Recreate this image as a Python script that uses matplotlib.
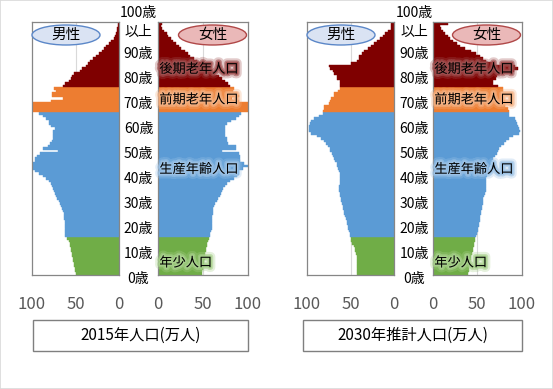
"""Population pyramids: 2015 census vs 2030 projection (unit: 10k people)."""
import matplotlib
matplotlib.use("Agg")
import matplotlib.pyplot as plt
import matplotlib.patheffects as pe
import matplotlib.transforms as mtransforms
from matplotlib.patches import Ellipse, Rectangle
import numpy as np

plt.rcParams["font.family"] = ["Noto Sans CJK JP", "DejaVu Sans"]

W, H = 553, 389

# Data (万人), index = age 0..99, last = 100歳以上
male_2015 = [
    49.6, 50.5, 51, 51.5, 52, 52.5, 53, 53.5, 54.5, 55,
    55.5, 56, 56.5, 58, 60, 62, 62, 62.5, 62.5, 62.5,
    62.5, 62.5, 63, 63, 63.5, 64, 66, 67, 68, 69,
    71, 72, 74, 75, 76, 77, 78, 81, 84, 87,
    92, 96, 99, 100, 99, 96, 96, 94, 91, 70,
    87, 82, 79, 77, 76, 76, 76, 76, 73, 78,
    80, 80, 84, 87, 92, 101, 106, 110, 106, 78,
    64, 77, 77, 72, 75, 64, 62, 57, 55, 54,
    52, 45, 42, 38, 36, 33, 30, 26, 23, 20,
    17, 15, 12, 9, 6, 5, 3.5, 2.5, 1.8, 1.2,
    1.5,
]
female_2015 = [
    49, 49.5, 50, 50.5, 51, 51.5, 52, 52.5, 53, 53.5,
    54, 54.5, 55, 56, 57, 58, 58, 59, 60, 60,
    60, 60, 60, 60.5, 61, 61.5, 62, 63, 64, 66,
    67, 69, 70, 72, 73, 75, 77, 81, 85, 88,
    90, 91, 95, 100, 96, 92, 92, 92, 90, 71,
    87, 87, 78, 77, 77, 75, 75, 75, 75, 75,
    77, 82, 87, 90, 93, 104, 112, 118, 114, 90,
    83, 90, 88, 84, 85, 80, 78, 75, 72, 68,
    64, 60, 56, 52, 48, 44, 40, 36, 33, 30,
    26, 23, 20, 17, 14, 11, 10, 7, 5, 3.5,
    5,
]
male_2030 = [
    42, 42, 42, 42, 42, 42.5, 43, 43, 44, 44.5,
    45, 46, 48, 49, 50, 51, 51, 52, 53, 53,
    54, 54.5, 55, 56, 57, 58, 58.5, 59, 60, 60.5,
    61, 61.5, 62, 63, 63, 63, 62.5, 62, 62, 62,
    62.5, 63, 64, 65, 66, 67.5, 69, 70, 71, 73,
    74, 76, 78, 80, 84, 88, 95, 98, 98, 98,
    97, 95, 92, 86, 82, 82, 81, 80, 75, 73,
    72, 69, 69, 64, 62, 62, 62, 62, 65, 65,
    69, 70, 73, 75, 50, 42, 40, 40, 37, 35,
    30, 27, 23, 20, 16, 13, 10, 7, 4, 3,
    3,
]
female_2030 = [
    40, 40.5, 41, 41, 41.5, 42, 42.5, 43.5, 44, 45,
    45.5, 46, 46.5, 47, 48, 49, 50, 50.5, 51, 52,
    52.5, 53, 53, 53.5, 54, 54.5, 55, 55, 56, 57,
    57, 58, 59, 60, 60, 60, 60, 60, 60, 60.5,
    61, 62, 63, 64, 66, 67, 68, 70, 72, 73,
    75, 77, 80, 83, 86, 90, 97, 98, 97, 96,
    95, 94, 93, 86, 86, 86, 85, 81, 81, 81,
    77, 77, 77, 79, 79, 73, 68, 68, 71, 72,
    75, 92, 96, 93, 68, 60, 57, 53, 49, 43,
    36, 31, 27, 23, 19, 17, 14, 11, 9, 8,
    17,
]

age_ticks = [0, 10, 20, 30, 40, 50, 60, 70, 80, 90]
age_labels = [f"{a}歳" for a in age_ticks]
group_names = ["後期老年人口", "前期老年人口", "生産年齢人口", "年少人口"]
group_label_age = [81.6, 69.4, 41.6, 4.3]
titles = ["2015年人口(万人)", "2030年推計人口(万人)"]

COL_YOUNG = "#70ad47"
COL_WORK = "#5b9bd5"
COL_OLD1 = "#ed7d31"
COL_OLD2 = "#7f0000"
GLOWS = ["#a05050", "#f4b183", "#9dc3e6", "#a9d18e"]

ages = np.arange(101)
colors = np.where(ages < 15, COL_YOUNG,
                  np.where(ages < 65, COL_WORK,
                           np.where(ages < 75, COL_OLD1, COL_OLD2)))


def px_rect(x0, y0, x1, y1):
    return [x0 / W, 1 - y1 / H, (x1 - x0) / W, (y1 - y0) / H]


def style_panel(ax, male):
    ax.set_ylim(-0.5, 100.5)
    ax.set_xlim((100, 0) if male else (0, 100))
    ax.axvline(50, color="#d9d9d9", lw=0.8, zorder=0)
    ax.set_yticks([])
    ax.set_xticks([0, 50, 100])
    ax.set_xticklabels(["0", "50", "100"])
    ax.tick_params(axis="x", length=0, pad=15, labelsize=12, labelcolor="#595959")
    for s in ax.spines.values():
        s.set_color("#868686")
        s.set_linewidth(0.9)


fig = plt.figure(figsize=(W / 100, H / 100), dpi=100)
fig.add_artist(Rectangle((0, 0), 1, 1, transform=fig.transFigure,
                         fill=False, edgecolor="#d9d9d9", lw=1.2))

charts = [
    (male_2015, female_2015, (32, 119), (158, 247.5), 138.5, (33, 140, 248, 351)),
    (male_2030, female_2030, (307, 394), (433, 521.5), 414, (303, 412, 522, 351)),
]

for i, (mvals, fvals, mx, fx, cx, box) in enumerate(charts):
    axm = fig.add_axes(px_rect(mx[0], 22, mx[1], 275))
    axf = fig.add_axes(px_rect(fx[0], 22, fx[1], 275))
    axm.barh(ages, mvals, height=1.0, color=colors, edgecolor=colors, lw=0.3, zorder=2)
    axf.barh(ages, fvals, height=1.0, color=colors, edgecolor=colors, lw=0.3, zorder=2)
    style_panel(axm, True)
    style_panel(axf, False)

    # age labels between the two panels
    tr = mtransforms.blended_transform_factory(fig.transFigure, axm.transData)
    for a, lab in zip(age_ticks, age_labels):
        fig.text(cx / W, a - 2.2, lab, transform=tr, ha="center", va="center",
                 fontsize=10, color="#000000")
    fig.text(cx / W, 104.1, "100歳", transform=tr, ha="center", va="center", fontsize=10)
    fig.text(cx / W, 96.5, "以上", transform=tr, ha="center", va="center", fontsize=10)

    # age group labels with soft glow
    for name, ya, glow in zip(group_names, group_label_age, GLOWS):
        axf.text(1.5, ya, name, ha="left", va="center", fontsize=9.5, color="black",
                 zorder=5,
                 path_effects=[pe.withStroke(linewidth=7, foreground=glow, alpha=0.3),
                               pe.withStroke(linewidth=4, foreground=glow, alpha=0.6),
                               pe.withStroke(linewidth=2, foreground=glow, alpha=0.9)])

    # sex labels in ellipses
    mcx = mx[0] + 34
    fcx = fx[1] - 35
    for ecx, txt, fc, ec in [(mcx, "男性", "#dae3f3", "#5b87c8"),
                             (fcx, "女性", "#eab8b8", "#b04848")]:
        fig.add_artist(Ellipse((ecx / W, 1 - 35 / H), 68 / W, 20 / H,
                               transform=fig.transFigure, facecolor=fc,
                               edgecolor=ec, lw=1.0, zorder=6))
        fig.text(ecx / W, 1 - 35 / H, txt, ha="center", va="center",
                 fontsize=10.5, zorder=7)

    # title box
    x0, y0, x1, y1 = box[0], 320, box[2], box[3]
    fig.add_artist(Rectangle((x0 / W, 1 - y1 / H), (x1 - x0) / W, (y1 - y0) / H,
                             transform=fig.transFigure, fill=False,
                             edgecolor="#7f7f7f", lw=1.0))
    fig.text((x0 + x1) / 2 / W, 1 - (y0 + y1) / 2 / H, titles[i],
             ha="center", va="center", fontsize=11)

fig.savefig("out.png", dpi=100)
